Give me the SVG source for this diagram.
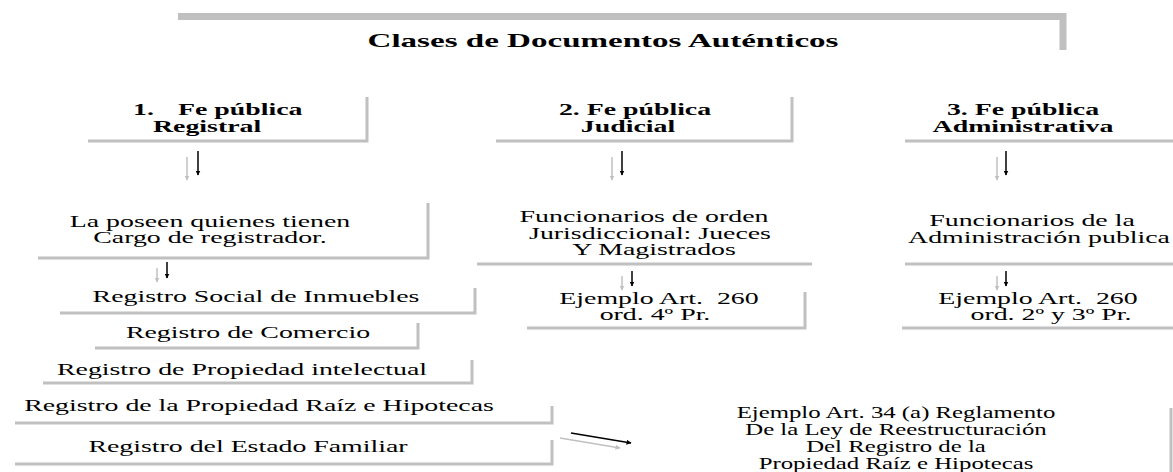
<svg xmlns="http://www.w3.org/2000/svg" width="1173" height="472" viewBox="0 0 1173 472">
<defs>
<style>
.t{font-family:"Liberation Serif","Times New Roman",serif;font-size:16px;fill:#000}
.b{font-weight:bold}
.h{font-size:19px;font-weight:bold}
.sh{stroke:#c0c0c0;stroke-width:3;fill:none}
.ab{stroke:#000;stroke-width:1.5;fill:none}
.ag{stroke:#c0c0c0;stroke-width:1.5;fill:none}
</style>
<marker id="mb" viewBox="0 0 10 10" refX="9" refY="5" markerWidth="5" markerHeight="5" markerUnits="userSpaceOnUse" orient="auto"><path d="M0,0 L10,5 L0,10 z" fill="#000"/></marker>
<marker id="mg" viewBox="0 0 10 10" refX="9" refY="5" markerWidth="5" markerHeight="5" markerUnits="userSpaceOnUse" orient="auto"><path d="M0,0 L10,5 L0,10 z" fill="#c0c0c0"/></marker>
</defs>
<rect width="1173" height="472" fill="#fff"/>

<g id="title">
<path d="M178,16.5 H1063 V50" stroke="#c0c0c0" stroke-width="7" fill="none"/>
<text class="t h" text-anchor="middle" transform="translate(603 47) scale(1.74 1)">Clases de Documentos Auténticos</text>
</g>

<g id="fe-registral">
<path class="sh" d="M88,141 H367 V97"/>
<text class="t b" transform="translate(133 115) scale(1.74 1)">1.</text>
<text class="t b" transform="translate(178 115) scale(1.74 1)">Fe pública</text>
<text class="t b" transform="translate(153 132) scale(1.74 1)">Registral</text>
</g>

<g id="fe-judicial">
<path class="sh" d="M496,141 H792 V97"/>
<text class="t b" text-anchor="middle" transform="translate(635 115) scale(1.74 1)">2. Fe pública</text>
<text class="t b" text-anchor="middle" transform="translate(628 132) scale(1.74 1)">Judicial</text>
</g>

<g id="fe-administrativa">
<path class="sh" d="M905,141 H1173"/>
<text class="t b" text-anchor="middle" transform="translate(1023 115) scale(1.74 1)">3. Fe pública</text>
<text class="t b" text-anchor="middle" transform="translate(1023 132) scale(1.74 1)">Administrativa</text>
</g>

<g id="registrador">
<path class="sh" d="M38,258 H428 V203"/>
<text class="t" text-anchor="middle" transform="translate(210 227) scale(1.74 1)">La poseen quienes tienen</text>
<text class="t" text-anchor="middle" transform="translate(210 243) scale(1.74 1)">Cargo de registrador.</text>
</g>

<g id="jueces">
<path class="sh" d="M477,264 H812"/>
<text class="t" text-anchor="middle" transform="translate(644 222) scale(1.74 1)">Funcionarios de orden</text>
<text class="t" text-anchor="middle" transform="translate(650 239) scale(1.74 1)">Jurisdiccional: Jueces</text>
<text class="t" text-anchor="middle" transform="translate(654 255) scale(1.74 1)">Y Magistrados</text>
</g>

<g id="administracion">
<path class="sh" d="M905,264 H1173"/>
<text class="t" text-anchor="middle" transform="translate(1032 226) scale(1.74 1)">Funcionarios de la</text>
<text class="t" text-anchor="middle" transform="translate(1039 243) scale(1.74 1)">Administración publica</text>
</g>

<g id="reg-social">
<path class="sh" d="M60,313 H475 V288"/>
<text class="t" text-anchor="middle" transform="translate(256 302) scale(1.74 1)">Registro Social de Inmuebles</text>
</g>

<g id="reg-comercio">
<path class="sh" d="M95,348 H418 V323"/>
<text class="t" text-anchor="middle" transform="translate(248 338) scale(1.74 1)">Registro de Comercio</text>
</g>

<g id="reg-intelectual">
<path class="sh" d="M43,383 H472 V360"/>
<text class="t" text-anchor="middle" transform="translate(242 375) scale(1.74 1)">Registro de Propiedad intelectual</text>
</g>

<g id="reg-raiz">
<path class="sh" d="M15,423 H552 V406"/>
<text class="t" text-anchor="middle" transform="translate(259 411) scale(1.74 1)">Registro de la Propiedad Raíz e Hipotecas</text>
</g>

<g id="reg-familiar">
<path class="sh" d="M15,464 H552 V440"/>
<text class="t" text-anchor="middle" transform="translate(248 452) scale(1.74 1)">Registro del Estado Familiar</text>
</g>

<g id="ejemplo-judicial">
<path class="sh" d="M527,328 H805 V292"/>
<text class="t" text-anchor="middle" transform="translate(659 304) scale(1.74 1)">Ejemplo Art.&#160; 260</text>
<text class="t" text-anchor="middle" transform="translate(655 320) scale(1.74 1)">ord. 4º Pr.</text>
</g>

<g id="ejemplo-admin">
<path class="sh" d="M902,328 H1173"/>
<text class="t" text-anchor="middle" transform="translate(1038 304) scale(1.74 1)">Ejemplo Art.&#160; 260</text>
<text class="t" text-anchor="middle" transform="translate(1051 320) scale(1.74 1)">ord. 2º y 3º Pr.</text>
</g>

<g id="ejemplo-reglamento">
<path class="sh" d="M1171,408 V472"/>
<text class="t" text-anchor="middle" transform="translate(896 418) scale(1.55 1)">Ejemplo Art. 34 (a) Reglamento</text>
<text class="t" text-anchor="middle" transform="translate(896 435) scale(1.55 1)">De la Ley de Reestructuración</text>
<text class="t" text-anchor="middle" transform="translate(896 452) scale(1.55 1)">Del Registro de la</text>
<text class="t" text-anchor="middle" transform="translate(896 469) scale(1.55 1)">Propiedad Raíz e Hipotecas</text>
</g>

<g id="connectors">
<line class="ag" x1="187" y1="157" x2="187" y2="180" marker-end="url(#mg)"/>
<line class="ab" x1="198" y1="151" x2="198" y2="175" marker-end="url(#mb)"/>
<line class="ag" x1="612" y1="157" x2="612" y2="180" marker-end="url(#mg)"/>
<line class="ab" x1="622" y1="151" x2="622" y2="175" marker-end="url(#mb)"/>
<line class="ag" x1="997" y1="157" x2="997" y2="180" marker-end="url(#mg)"/>
<line class="ab" x1="1006" y1="151" x2="1006" y2="175" marker-end="url(#mb)"/>
<line class="ag" x1="157" y1="268" x2="157" y2="282" marker-end="url(#mg)"/>
<line class="ab" x1="167" y1="262" x2="167" y2="278" marker-end="url(#mb)"/>
<line class="ag" x1="622" y1="276" x2="622" y2="290" marker-end="url(#mg)"/>
<line class="ab" x1="632" y1="271" x2="632" y2="286" marker-end="url(#mb)"/>
<line class="ag" x1="997" y1="276" x2="997" y2="290" marker-end="url(#mg)"/>
<line class="ab" x1="1006" y1="271" x2="1006" y2="286" marker-end="url(#mb)"/>
<line class="ab" x1="571" y1="433" x2="631" y2="443" marker-end="url(#mb)"/>
<line class="ag" x1="560" y1="438" x2="620" y2="448" marker-end="url(#mg)"/>
</g>
</svg>
